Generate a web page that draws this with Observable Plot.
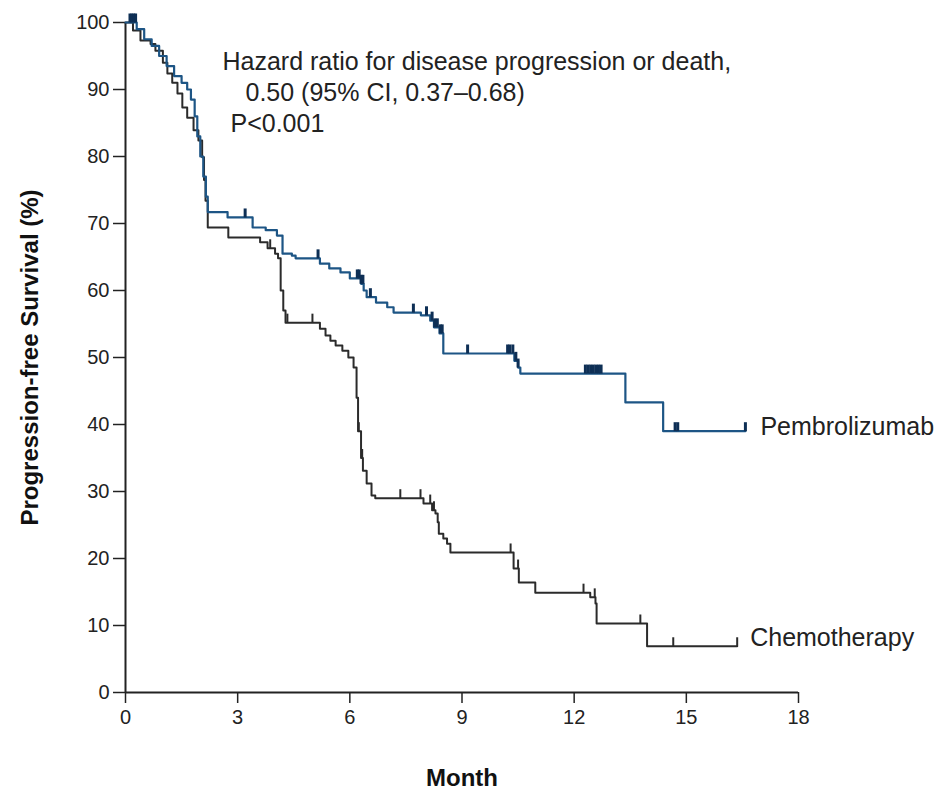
<!DOCTYPE html>
<html>
<head>
<meta charset="utf-8">
<script src="https://cdn.jsdelivr.net/npm/d3@7"></script>
<script src="https://cdn.jsdelivr.net/npm/@observablehq/plot@0.6"></script>
<style>
  html, body { margin: 0; padding: 0; background: #fff; }
  #chart svg { display: block; }
</style>
</head>
<body>
<div id="chart"></div>
<script>
// Pembrolizumab Kaplan–Meier steps (month, % progression-free)
const pembroTime = [0, 0.3, 0.5, 0.7, 0.9, 1.1, 1.3, 1.5, 1.65, 1.75, 1.85, 1.92, 2.0, 2.08, 2.15, 2.2, 2.73, 3.4, 3.75, 4.05, 4.2, 4.45, 4.55, 5.2, 5.45, 5.75, 6.0, 6.3, 6.37, 6.45, 6.7, 7.0, 7.17, 7.9, 8.15, 8.25, 8.4, 8.5, 10.4, 10.5, 10.56, 13.37, 14.38, 16.58];
const pembroSurv = [100, 99, 97.5, 96.5, 95, 93.5, 92, 91, 90, 88.5, 86, 83, 80, 77, 74, 71.7, 70.9, 69.4, 69, 68.2, 65.5, 65.2, 64.8, 64, 63.3, 62.7, 61.8, 61, 60, 59, 58.2, 57.5, 56.7, 56.3, 55.5, 54.5, 53.6, 50.6, 49.5, 48.5, 47.6, 43.3, 39.0, 39.0];
const pembroCensor = [0.12, 0.17, 0.22, 0.27, 3.2, 5.15, 6.2, 6.25, 6.3, 6.35, 6.55, 7.7, 8.05, 8.2, 8.27, 8.34, 8.42, 8.47, 9.15, 10.22, 10.28, 10.36, 10.44, 10.5, 12.3, 12.37, 12.44, 12.51, 12.58, 12.65, 12.72, 14.7, 14.77, 16.58];

// Chemotherapy Kaplan–Meier steps
const chemoTime = [0, 0.2, 0.4, 0.67, 0.8, 1.0, 1.12, 1.25, 1.39, 1.52, 1.65, 1.82, 1.95, 2.05, 2.1, 2.14, 2.2, 2.75, 3.6, 3.8, 4.0, 4.08, 4.15, 4.22, 4.28, 5.2, 5.35, 5.48, 5.62, 5.8, 5.96, 6.1, 6.18, 6.22, 6.3, 6.35, 6.45, 6.58, 6.68, 7.97, 8.2, 8.29, 8.35, 8.38, 8.5, 8.6, 8.69, 10.38, 10.52, 10.96, 12.43, 12.57, 12.6, 13.95, 16.36];
const chemoSurv = [100, 98.8, 97.3, 96.8, 95.8, 94, 92.4, 91, 89.4, 87.3, 85.8, 83.9, 82.4, 79.9, 76.5, 73.4, 69.4, 67.9, 67.2, 66.3, 65.5, 64.8, 60, 57, 55.2, 54.3, 53.3, 52.5, 51.8, 51, 50, 48.5, 44, 39, 35, 33.1, 31.2, 29.4, 29.0, 28.2, 27.2, 26.7, 25.4, 23.7, 23, 22.2, 20.9, 18.5, 16.4, 14.9, 14.2, 13.3, 10.3, 6.9, 6.9];
const chemoCensor = [3.87, 4.33, 5.0, 6.24, 6.33, 7.35, 7.89, 8.15, 8.25, 10.3, 10.5, 12.25, 12.55, 13.77, 14.65, 16.36];

const xTicks = [0, 3, 6, 9, 12, 15, 18];
const yTicks = [0, 10, 20, 30, 40, 50, 60, 70, 80, 90, 100];
const seriesNames = ["Pembrolizumab", "Chemotherapy"];
const annotationLines = [
  "Hazard ratio for disease progression or death,",
  "0.50 (95% CI, 0.37\u20130.68)",
  "P<0.001"
];
const xLabel = "Month";
const yLabel = "Progression-free Survival (%)";

const BLUE = "#1d5585";
const BLUE_DARK = "#0e2f55";
const BLACK = "#2b2b2b";

function steps(times, surv) {
  return times.map((t, i) => ({t, s: surv[i]}));
}
function survAt(times, surv, t) {
  let v = surv[0];
  for (let i = 0; i < times.length; i++) if (times[i] <= t) v = surv[i];
  return v;
}
const pembro = steps(pembroTime, pembroSurv);
const chemo = steps(chemoTime, chemoSurv);
const pembroMarks = pembroCensor.map(t => ({t, s: survAt(pembroTime, pembroSurv, t)}));
const chemoMarks = chemoCensor.map(t => ({t, s: survAt(chemoTime, chemoSurv, t)}));

const censorSymbol = {
  draw(context, size) {
    context.moveTo(0, 0);
    context.lineTo(0, -9);
  }
};

const font = "'Liberation Sans', Arial, sans-serif";
const textSize = 25;

const chart = Plot.plot({
  width: 942,
  height: 795,
  marginLeft: 125,
  marginRight: 144,
  marginTop: 22,
  marginBottom: 103,
  style: {fontFamily: font, background: "#fff", color: "#222"},
  x: {domain: [0, 18]},
  y: {domain: [0, 100]},
  marks: [
    Plot.axisX({ticks: xTicks, tickSize: 11, tickPadding: 6, fontSize: 20, label: null, strokeWidth: 1.5}),
    Plot.axisY({ticks: yTicks, tickSize: 12, tickPadding: 4, fontSize: 20, label: null, strokeWidth: 1.5}),
    Plot.ruleX([0], {stroke: "#222", strokeWidth: 2}),
    Plot.ruleY([0], {stroke: "#222", strokeWidth: 2}),
    Plot.line(chemo, {x: "t", y: "s", curve: "step-after", stroke: BLACK, strokeWidth: 2}),
    Plot.dot(chemoMarks, {x: "t", y: "s", symbol: censorSymbol, r: 4, stroke: BLACK, strokeWidth: 2, fill: "none"}),
    Plot.line(pembro, {x: "t", y: "s", curve: "step-after", stroke: BLUE, strokeWidth: 2.2}),
    Plot.dot(pembroMarks, {x: "t", y: "s", symbol: censorSymbol, r: 4, stroke: BLUE_DARK, strokeWidth: 3, fill: "none"}),
    Plot.text([seriesNames[0]], {x: pembroTime[pembroTime.length - 1], y: pembroSurv[pembroSurv.length - 1], textAnchor: "start", lineAnchor: "middle", dx: 15, dy: -4, fontSize: textSize, fill: "#222"}),
    Plot.text([seriesNames[1]], {x: chemoTime[chemoTime.length - 1], y: chemoSurv[chemoSurv.length - 1], textAnchor: "start", lineAnchor: "middle", dx: 13, dy: -8, fontSize: textSize, fill: "#222"}),
    Plot.text([annotationLines[0]], {frameAnchor: "top-left", textAnchor: "start", lineAnchor: "middle", dx: 97, dy: 39, fontSize: textSize, fill: "#222"}),
    Plot.text([annotationLines[1]], {frameAnchor: "top-left", textAnchor: "start", lineAnchor: "middle", dx: 120, dy: 70, fontSize: textSize, fill: "#222"}),
    Plot.text([annotationLines[2]], {frameAnchor: "top-left", textAnchor: "start", lineAnchor: "middle", dx: 105, dy: 101, fontSize: textSize, fill: "#222"}),
    Plot.text([yLabel], {frameAnchor: "left", textAnchor: "middle", lineAnchor: "middle", rotate: -90, dx: -95, fontSize: 24, fontWeight: "bold", fill: "#111"}),
    Plot.text([xLabel], {frameAnchor: "bottom", textAnchor: "middle", lineAnchor: "middle", dy: 86, fontSize: 24, fontWeight: "bold", fill: "#111"})
  ]
});
document.getElementById("chart").appendChild(chart);
</script>
</body>
</html>
